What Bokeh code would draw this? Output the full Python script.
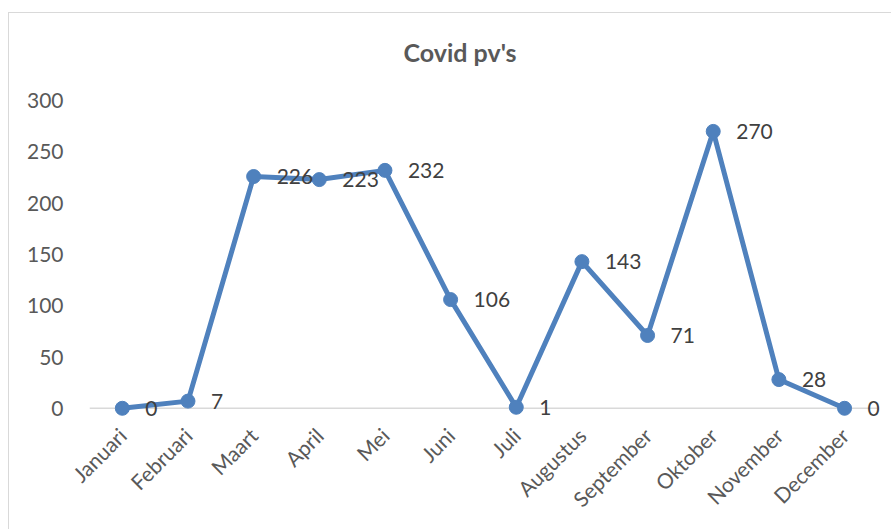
from bokeh.plotting import figure
from bokeh.models import ColumnDataSource, Range1d, LabelSet, FixedTicker
from bokeh.core.properties import value
from bokeh.embed import file_html
from bokeh.resources import INLINE

months = ["Januari", "Februari", "Maart", "April", "Mei", "Juni", "Juli",
          "Augustus", "September", "Oktober", "November", "December"]
values = [0, 7, 226, 223, 232, 106, 1, 143, 71, 270, 28, 0]
y_ticks = [0, 50, 100, 150, 200, 250, 300]

idx = list(range(len(months)))
src = ColumnDataSource(dict(x=idx, v=values, t=[str(v) for v in values]))

BLUE = "#4F81BD"
FONT = "Lato"
n = len(months)

p = figure(width=883, height=517, x_range=Range1d(-0.5, n - 0.5 + 0.2), y_range=Range1d(-8, 316.7),
           output_backend="svg", toolbar_location=None,
           min_border_left=80, min_border_right=2, min_border_top=70, min_border_bottom=114)
p.styles = {"margin-left": "8px", "margin-top": "12px",
            "border-top": "1px solid #d9d9d9", "border-left": "1px solid #d9d9d9"}
p.outline_line_color = None
p.background_fill_color = "white"
p.border_fill_color = "white"
p.xgrid.grid_line_color = None
p.ygrid.grid_line_color = None

p.title.text = "Covid pv's"
p.title.align = "left"
p.title.offset = 314
p.title.standoff = 34
p.title.text_font = FONT
p.title.text_font_size = "25px"
p.title.text_font_style = "bold"
p.title.text_color = "#595959"

p.yaxis.ticker = FixedTicker(ticks=y_ticks)
p.yaxis.axis_line_color = None
p.yaxis.major_tick_line_color = None
p.yaxis.minor_tick_line_color = None
p.yaxis.major_label_standoff = 20
p.yaxis.major_label_text_font = FONT
p.yaxis.major_label_text_font_size = "21px"
p.yaxis.major_label_text_color = "#595959"

p.xaxis.ticker = FixedTicker(ticks=idx)
p.xaxis.major_label_overrides = {i: m for i, m in zip(idx, months)}
p.xaxis.axis_line_color = None
p.xaxis.major_tick_line_color = None
p.xaxis.minor_tick_line_color = None
p.xaxis.major_label_orientation = 0.785398
p.xaxis.major_label_standoff = 9
p.xaxis.major_label_text_font = FONT
p.xaxis.major_label_text_font_size = "21px"
p.xaxis.major_label_text_color = "#595959"

# category axis line at zero, spanning the plot area
p.line([-0.5, n - 0.5], [0, 0], line_color="#d9d9d9", line_width=1.5)

p.line("x", "v", source=src, line_color=BLUE, line_width=5)
p.scatter("x", "v", source=src, size=14, fill_color=BLUE, line_color=BLUE)

labels = LabelSet(x="x", y="v", text="t", source=src, x_offset=23, y_offset=0,
                  text_baseline="middle", text_align="left",
                  text_font=value(FONT), text_font_size=value("21px"), text_color="#404040")
p.add_layout(labels)

open("out.html", "w").write(file_html(p, INLINE))
